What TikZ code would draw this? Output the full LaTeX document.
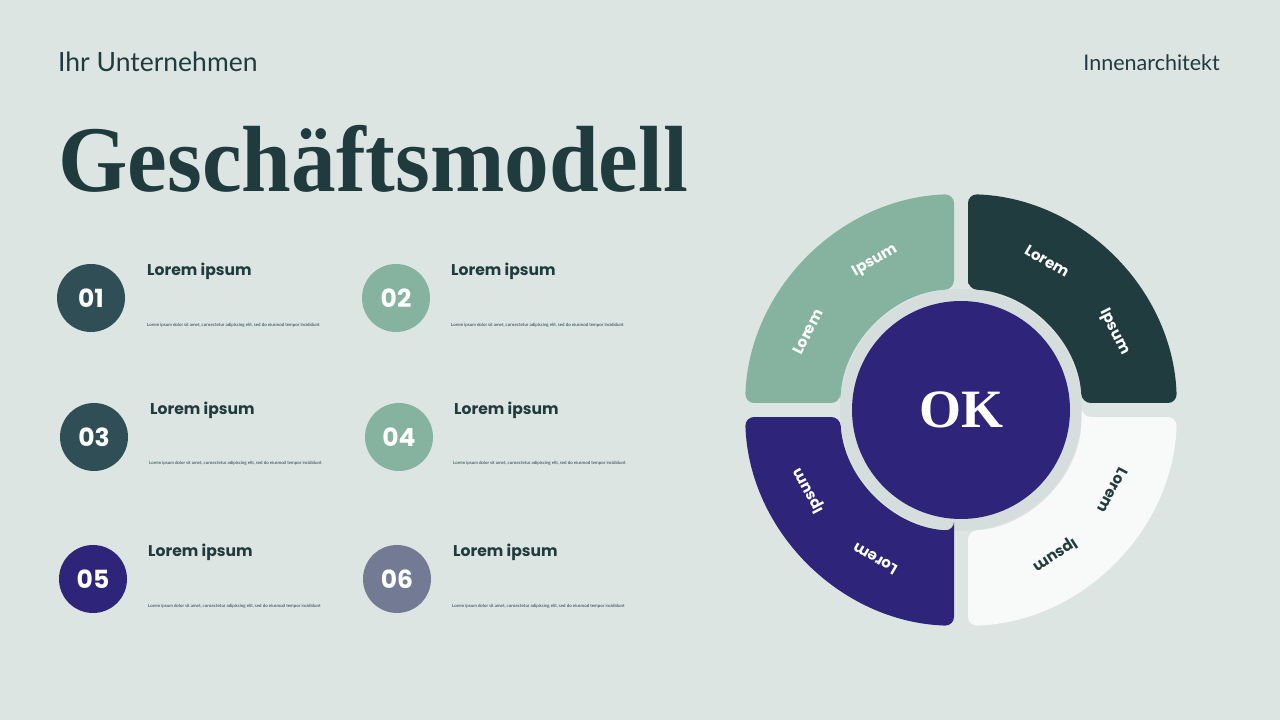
\documentclass[tikz,border=0pt]{standalone}
\usepackage{fontspec}
\setmainfont{Liberation Serif}
\newfontfamily\pop{Poppins}
\newfontfamily\hdr{Lato}
\usetikzlibrary{positioning}
\definecolor{bg}{HTML}{DDE5E3}
\definecolor{ink}{HTML}{1F3B3D}
\definecolor{dkgreen}{HTML}{213C3E}
\definecolor{slate}{HTML}{2F4E56}
\definecolor{teal}{HTML}{85B3A0}
\definecolor{purp}{HTML}{2E2479}
\definecolor{greyblue}{HTML}{737A93}
\definecolor{offwhite}{HTML}{F8FAFA}
\definecolor{ringgrey}{HTML}{D6DDDD}
\tikzset{
  numcirc/.style={circle,minimum size=68pt,inner sep=0pt,text=white,font=\pop\bfseries\fontsize{25}{25}\selectfont},
  itemtitle/.style={anchor=west,inner sep=0pt,text=ink,font=\pop\bfseries\fontsize{15.6}{16}\selectfont},
  itemtext/.style={anchor=west,inner sep=0pt,text=ink,font=\hdr\fontsize{4.4}{5}\selectfont},
  seglabel/.style={inner sep=0pt,font=\pop\bfseries\fontsize{15}{15}\selectfont},
  segshape/.style={rounded corners=9pt}
}
\newcommand{\segpath}{(86.68:121) -- (88.14:216) arc[start angle=88.14,end angle=1.86,radius=216] -- (3.32:121) arc[start angle=3.32,end angle=86.68,radius=121] -- cycle}
\newcommand{\smalltext}{Lorem ipsum dolor sit amet, consectetur adipiscing elit, sed do eiusmod tempor incididunt}
\begin{document}
\begin{tikzpicture}[x=1pt,y=1pt]
\fill[bg] (0,0) rectangle (1280,720);
\useasboundingbox (0,0) rectangle (1280,720);
% header
\node[anchor=base west,inner sep=0pt,text=ink,font=\hdr\fontsize{26.5}{27}\selectfont] (company) at (58,648) {Ihr Unternehmen};
\node[anchor=base east,inner sep=0pt,text=ink,font=\hdr\fontsize{21.5}{22}\selectfont] (arch) at (1220,649) {Innenarchitekt};
\node[anchor=base west,inner sep=0pt,text=ink,font=\bfseries\fontsize{94}{94}\selectfont] (title) at (58,528) {\scalebox{0.95}[1]{Geschäftsmodell}};
% list items
\node[numcirc,fill=slate] (n1) at (91,422) {01};
\node[numcirc,fill=teal] (n2) at (396,422) {02};
\node[numcirc,fill=slate] (n3) at (94,283) {03};
\node[numcirc,fill=teal] (n4) at (399,283) {04};
\node[numcirc,fill=purp] (n5) at (93,141) {05};
\node[numcirc,fill=greyblue] (n6) at (397,141) {06};
\node[itemtitle] (t1) at (147,449) {Lorem ipsum};
\node[itemtitle] (t2) at (451,449) {Lorem ipsum};
\node[itemtitle] (t3) at (150,310) {Lorem ipsum};
\node[itemtitle] (t4) at (454,310) {Lorem ipsum};
\node[itemtitle] (t5) at (148,168) {Lorem ipsum};
\node[itemtitle] (t6) at (453,168) {Lorem ipsum};
\node[itemtext] (d1) at (147,395) {\smalltext};
\node[itemtext] (d2) at (451,395) {\smalltext};
\node[itemtext] (d3) at (149,257) {\smalltext};
\node[itemtext] (d4) at (453,257) {\smalltext};
\node[itemtext] (d5) at (148,114) {\smalltext};
\node[itemtext] (d6) at (452,114) {\smalltext};
% wheel
\begin{scope}[shift={(961,310)}]
  \fill[ringgrey] (0,0) circle (121);
  \fill[dkgreen,segshape] \segpath;
  \begin{scope}[rotate=90]\fill[teal,segshape] \segpath;\end{scope}
  \begin{scope}[rotate=180]\fill[purp,segshape] \segpath;\end{scope}
  \begin{scope}[rotate=270]\fill[offwhite,segshape] \segpath;\end{scope}
  \node[circle,fill=purp,minimum size=218pt,inner sep=0pt,text=white,font=\bfseries\fontsize{54}{54}\selectfont] (ok) at (0,0) {OK};
  \node[seglabel,text=white,rotate=63] (l1) at (153:172) {Lorem};
  \node[seglabel,text=white,rotate=30] (i1) at (120:172) {Ipsum};
  \node[seglabel,text=white,rotate=-30] (l2) at (60:172) {Lorem};
  \node[seglabel,text=white,rotate=-63] (i2) at (27:172) {Ipsum};
  \node[seglabel,text=dkgreen,rotate=-118] (l3) at (-28:172) {Lorem};
  \node[seglabel,text=dkgreen,rotate=-147] (i3) at (-57:172) {Ipsum};
  \node[seglabel,text=white,rotate=150] (l4) at (-120:172) {Lorem};
  \node[seglabel,text=white,rotate=118] (i4) at (-152:172) {Ipsum};
\end{scope}
\end{tikzpicture}
\end{document}
